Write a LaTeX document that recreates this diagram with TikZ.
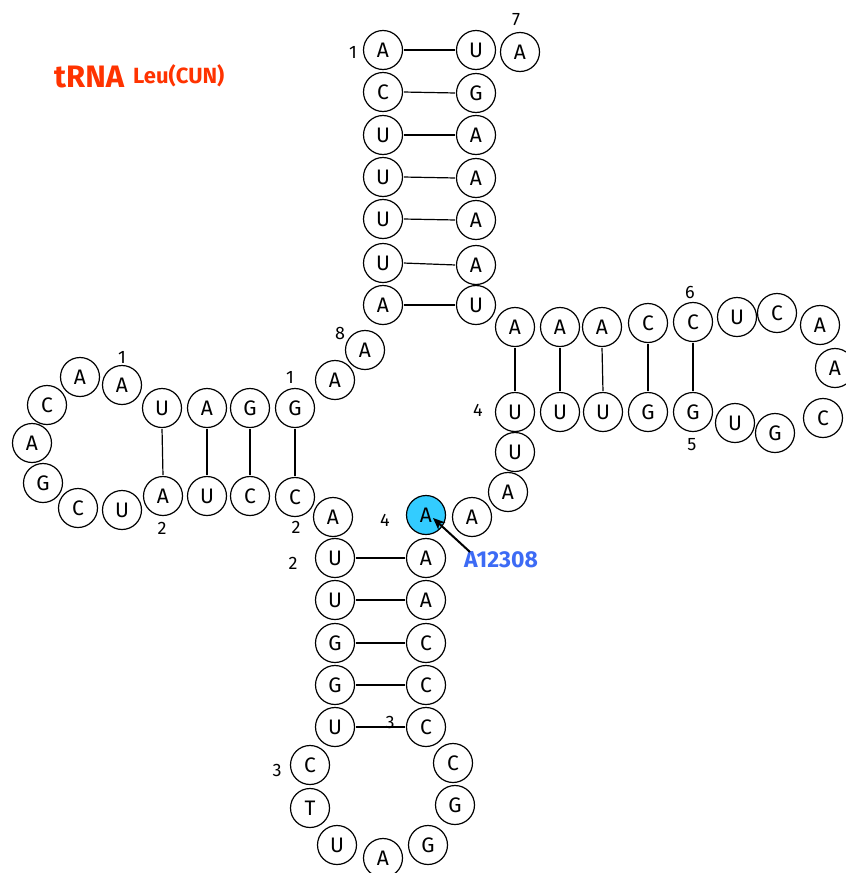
\documentclass[tikz,border=0pt]{standalone}
\usepackage{fontspec}
\setmainfont{Fira Sans}
\usetikzlibrary{arrows.meta}
\definecolor{hlfill}{HTML}{33CCFF}
\definecolor{labblue}{HTML}{3D6BF5}
\definecolor{ttlred}{HTML}{FF3300}
\begin{document}
\begin{tikzpicture}[x=1pt,y=-1pt,
  nt/.style={circle,draw=black,line width=1.2pt,fill=white,minimum size=39pt,inner sep=0pt,font=\fontsize{21}{23}\selectfont},
  num/.style={inner sep=0pt,font=\fontsize{18}{20}\selectfont},
  bp/.style={line width=1.2pt,shorten <=1pt,shorten >=1pt}]
\useasboundingbox (0,0) rectangle (846,873);
\fill[white] (0,0) rectangle (846,873);
% title
\node[anchor=base west,inner sep=0pt,text=ttlred,font=\fontsize{31}{33}\selectfont\bfseries] (t1) at (54,87) {tRNA};
\node[anchor=base west,inner sep=0pt,text=ttlred,font=\fontsize{22}{24}\selectfont\bfseries] (t2) at (133,83) {Leu(CUN)};
% nucleotides
\node[nt] (n1) at (383,50) {A};
\node[nt] (n2) at (383,92) {C};
\node[nt] (n3) at (383,135) {U};
\node[nt] (n4) at (383,177) {U};
\node[nt] (n5) at (383,219) {U};
\node[nt] (n6) at (383,263) {U};
\node[nt] (n7) at (383,305) {A};
\node[nt] (n8) at (365,350) {A};
\node[nt] (n9) at (335,380) {A};
\node[nt] (n10) at (295,408) {G};
\node[nt] (n11) at (250,408) {G};
\node[nt] (n12) at (207,408) {A};
\node[nt] (n13) at (162,408) {U};
\node[nt] (n14) at (122,385) {A};
\node[nt] (n15) at (80,377) {A};
\node[nt] (n16) at (47,405) {C};
\node[nt] (n17) at (32,443) {A};
\node[nt] (n18) at (43,483) {G};
\node[nt] (n19) at (78,508) {C};
\node[nt] (n20) at (122,510) {U};
\node[nt] (n21) at (163,496) {A};
\node[nt] (n22) at (207,496) {U};
\node[nt] (n23) at (250,496) {C};
\node[nt] (n24) at (295,497) {C};
\node[nt] (n25) at (333,517) {A};
\node[nt] (n26) at (335,558) {U};
\node[nt] (n27) at (335,600) {U};
\node[nt] (n28) at (335,643) {G};
\node[nt] (n29) at (335,685) {G};
\node[nt] (n30) at (335,727) {U};
\node[nt] (n31) at (310,765) {C};
\node[nt] (n32) at (310,808) {T};
\node[nt] (n33) at (337,845) {U};
\node[nt] (n34) at (383,858) {A};
\node[nt] (n35) at (428,845) {G};
\node[nt] (n36) at (455,805) {G};
\node[nt] (n37) at (453,763) {C};
\node[nt] (n38) at (426,727) {C};
\node[nt] (n39) at (426,685) {C};
\node[nt] (n40) at (426,643) {C};
\node[nt] (n41) at (426,600) {A};
\node[nt] (n42) at (426,558) {A};
\node[nt,fill=hlfill] (n43) at (426,515) {A};
\node[nt] (n44) at (472,517) {A};
\node[nt] (n45) at (508,492) {A};
\node[nt] (n46) at (515,452) {U};
\node[nt] (n47) at (515,412) {U};
\node[nt] (n48) at (560,412) {U};
\node[nt] (n49) at (603,412) {U};
\node[nt] (n50) at (648,412) {G};
\node[nt] (n51) at (693,412) {G};
\node[nt] (n52) at (735,423) {U};
\node[nt] (n53) at (775,433) {G};
\node[nt] (n54) at (823,418) {C};
\node[nt] (n55) at (835,368) {A};
\node[nt] (n56) at (820,325) {A};
\node[nt] (n57) at (777,313) {C};
\node[nt] (n58) at (737,317) {U};
\node[nt] (n59) at (693,322) {C};
\node[nt] (n60) at (648,323) {C};
\node[nt] (n61) at (602,327) {A};
\node[nt] (n62) at (560,327) {A};
\node[nt] (n63) at (515,327) {A};
\node[nt] (n64) at (476,305) {U};
\node[nt] (n65) at (476,265) {A};
\node[nt] (n66) at (476,220) {A};
\node[nt] (n67) at (476,178) {A};
\node[nt] (n68) at (476,135) {A};
\node[nt] (n69) at (476,93) {G};
\node[nt] (n70) at (476,50) {U};
\node[nt] (n71) at (520,52) {A};
% base pairs
\foreach \a/\b in {1/70,2/69,3/68,4/67,5/66,6/65,7/64,26/42,27/41,28/40,29/39,30/38}
  \draw[bp] (n\a.east) -- (n\b.west);
\foreach \a/\b in {13/21,12/22,11/23,10/24}
  \draw[bp] (n\a.south) -- (n\b.north);
\foreach \a/\b in {47/63,48/62,49/61,50/60,51/59}
  \draw[bp] (n\a.north) -- (n\b.south);
% numbers
\node[num] (l1) at (353,52) {1};
\node[num] (l7) at (516,20) {7};
\node[num] (l8) at (340,333) {8};
\node[num] (l10) at (122,357) {1};
\node[num] (l20) at (290,377) {1};
\node[num] (l21) at (162,528) {2};
\node[num] (l22) at (296,527) {2};
\node[num] (l23) at (293,563) {2};
\node[num] (l44) at (385,520) {4};
\node[num] (l31) at (390,722) {3};
\node[num] (l32) at (277,770) {3};
\node[num] (l60) at (690,292) {6};
\node[num] (l50) at (692,445) {5};
\node[num] (l46) at (478,410) {4};
% annotation
\node[anchor=west,inner sep=0pt,text=labblue,font=\fontsize{23}{25}\selectfont\bfseries] (lab) at (464,560) {A12308};
\coordinate (tail) at (470,552);
\coordinate (tip) at (433,518);
\draw[line width=2pt,-{Stealth[length=12pt,width=10pt]}] (tail) -- (tip);
\end{tikzpicture}
\end{document}
